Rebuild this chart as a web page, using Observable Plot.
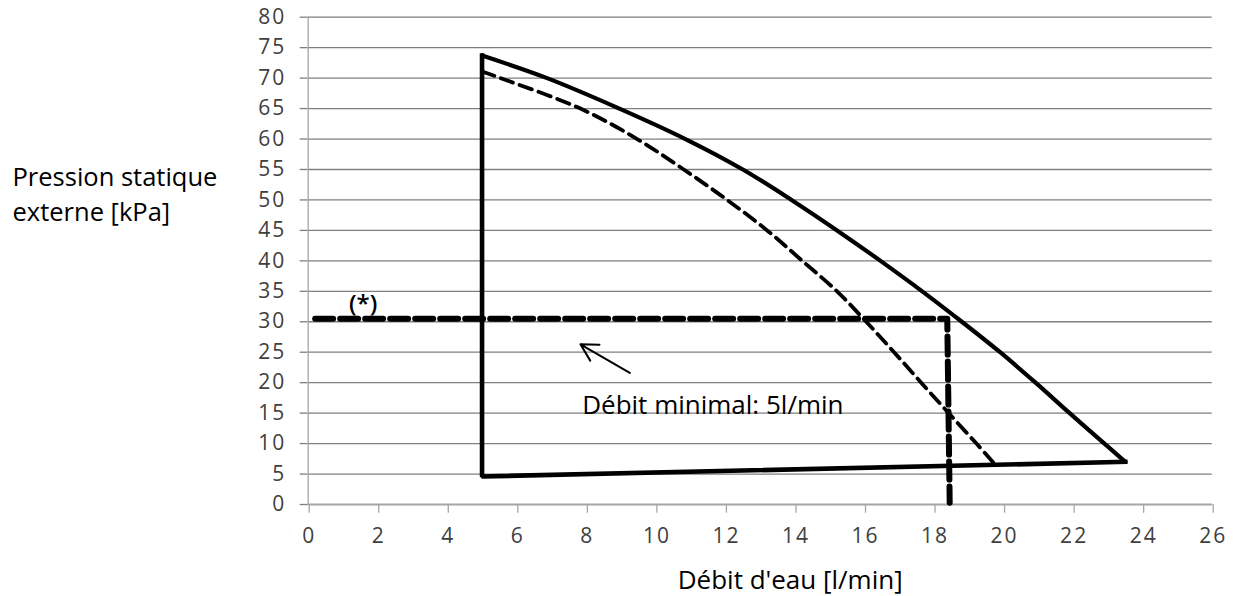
<!DOCTYPE html>
<html><head><meta charset="utf-8">
<script src="https://cdn.jsdelivr.net/npm/d3@7"></script>
<script src="https://cdn.jsdelivr.net/npm/@observablehq/plot@0.6"></script>
<style>
body{margin:0;background:#fff;}
</style>
</head><body><div id="chart"></div>
<script>
// Axis ticks
const xTicks = [0,2,4,6,8,10,12,14,16,18,20,22,24,26];
const yTicks = [0,5,10,15,20,25,30,35,40,45,50,55,60,65,70,75,80];

// Upper (solid) pump curve
const upperX = [5, 6.87, 8.95, 10.85, 12.5, 13.9, 15.21, 16.46, 17.66, 18.8, 19.9, 20.92, 21.9, 22.9, 23.5];
const upperY = [73.7, 70, 65, 60, 55, 50, 45, 40, 35, 30, 25, 20, 15, 10, 7.0];

// Lower (dashed) pump curve
const lowerX = [5, 5.53, 7.83, 9.46, 10.8, 12.05, 13.2, 14.21, 15.21, 16.05, 16.85, 17.63, 18.42, 19.22, 19.72];
const lowerY = [71.1, 70, 65, 60, 55, 50, 45, 40, 35, 30, 25, 20, 15, 10, 6.8];

// Envelope: minimum-flow vertical and bottom line
const envX = [5, 5, 23.5];
const envY = [73.7, 4.6, 7.0];

// Operating point (*) thick dashed line
const opX = [0.2, 18.38, 18.45];
const opY = [30.5, 30.5, 0.3];

// Annotations
const starLabel = "(*)";
const starPos = [1.58, 32.8];
const minLabel = "Débit minimal: 5l/min";
const minPos = [7.88, 16.26];
const arrowFrom = [9.25, 21.6];
const arrowTo = [7.83, 26.3];

const xTitle = "Débit d'eau [l/min]";
const yTitle = ["Pression statique", "externe [kPa]"];

const upper = upperX.map((x, i) => ({x, y: upperY[i]}));
const lower = lowerX.map((x, i) => ({x, y: lowerY[i]}));
const env = envX.map((x, i) => ({x, y: envY[i]}));
const op = opX.map((x, i) => ({x, y: opY[i]}));

const gridColor = "#7f7f7f";
const axisColor = "#a6a6a6";
const tickText = "#404040";

const chart = Plot.plot({
  width: 1233,
  height: 596,
  marginLeft: 307.7,
  marginRight: 21.3,
  marginTop: 16.7,
  marginBottom: 92,
  x: {domain: [0, 26]},
  y: {domain: [0, 80]},
  style: {fontFamily: "'Open Sans', sans-serif", background: "#fff", overflow: "visible"},
  marks: [
    Plot.gridY(yTicks, {stroke: gridColor, strokeOpacity: 1, strokeWidth: 1.3}),
    Plot.axisY(yTicks, {tickSize: 8, tickPadding: 14, stroke: gridColor, strokeWidth: 1.3, fill: tickText, fontSize: 21, label: null, tickFormat: d => String(d)}),
    Plot.ruleX([0], {stroke: axisColor, strokeWidth: 1.3}),
    Plot.ruleY([0], {stroke: axisColor, strokeWidth: 1.5}),
    Plot.axisX(xTicks, {tickSize: 8.7, tickPadding: 15, stroke: axisColor, strokeWidth: 1.3, fill: tickText, fontSize: 21, label: null, tickFormat: d => String(d), dx: 1}),
    // envelope lines
    Plot.line(env, {x: "x", y: "y", stroke: "#000", strokeWidth: 4.6, strokeLinecap: "square", strokeLinejoin: "miter"}),
    Plot.line(upper, {x: "x", y: "y", stroke: "#000", strokeWidth: 4.2, curve: "catmull-rom", strokeLinecap: "round"}),
    Plot.line(lower, {x: "x", y: "y", stroke: "#000", strokeWidth: 3.8, curve: "catmull-rom", strokeDasharray: "13,7"}),
    Plot.line(op, {x: "x", y: "y", stroke: "#000", strokeWidth: 6, strokeDasharray: "18,7"}),
    // annotations
    Plot.arrow([0], {x1: () => arrowFrom[0], y1: () => arrowFrom[1], x2: () => arrowTo[0], y2: () => arrowTo[1], headLength: 21, headAngle: 58, strokeWidth: 2, stroke: "#000"}),
    Plot.text([starLabel], {x: () => starPos[0], y: () => starPos[1], text: d => d, fontSize: 24, fontWeight: 600, fill: "#000", textAnchor: "middle", lineAnchor: "middle"}),
    Plot.text([minLabel], {x: () => minPos[0], y: () => minPos[1], text: d => d, fontSize: 26, fill: "#000", textAnchor: "start", lineAnchor: "middle"}),
    Plot.text([xTitle], {frameAnchor: "bottom", text: d => d, dx: 30, dy: 76, fontSize: 26, fill: "#000", textAnchor: "middle", lineAnchor: "middle"}),
    Plot.text([yTitle[0]], {frameAnchor: "top-left", text: d => d, dx: -295.7, dy: 150.3, fontSize: 25.5, fill: "#000", textAnchor: "start", lineAnchor: "top"}),
    Plot.text([yTitle[1]], {frameAnchor: "top-left", text: d => d, dx: -295.7, dy: 185.3, fontSize: 25.5, fill: "#000", textAnchor: "start", lineAnchor: "top"})
  ]
});
// widen tick label spacing to match the reference's wide digits
chart.querySelectorAll('g[aria-label="y-axis tick label"] text, g[aria-label="x-axis tick label"] text').forEach(t => {
  t.style.letterSpacing = "2px";
});
document.getElementById("chart").appendChild(chart);
</script>
</body></html>
